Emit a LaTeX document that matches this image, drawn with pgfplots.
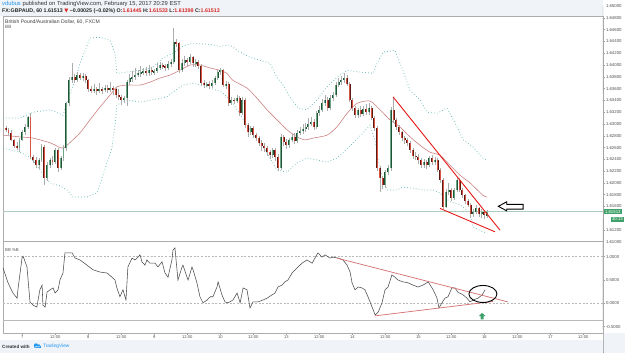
\documentclass[border=0pt]{standalone}
\usepackage{pgfplots}
\pgfplotsset{compat=1.18}
\usepackage{pgfplotstable}
\usepackage{fontspec}
\setmainfont{Liberation Sans}
\newfontfamily\symfont{DejaVu Sans}
\newcommand\fs[1]{\fontsize{#1}{#1}\selectfont}
\definecolor{hdr}{RGB}{240,243,247}
\definecolor{wick}{RGB}{172,172,172}
\definecolor{gdark}{RGB}{34,84,55}
\definecolor{glight}{RGB}{107,165,131}
\definecolor{rdark}{RGB}{91,26,19}
\definecolor{rlight}{RGB}{215,84,66}
\definecolor{ma}{RGB}{205,130,130}
\definecolor{bb}{RGB}{105,185,185}
\definecolor{trend}{RGB}{232,24,24}
\definecolor{trendb}{RGB}{214,110,110}
\definecolor{pline}{RGB}{170,205,188}
\definecolor{pgreen}{RGB}{64,160,105}
\definecolor{lbl}{RGB}{80,80,80}
\definecolor{tvblue}{RGB}{33,150,243}
\definecolor{tvred}{RGB}{214,40,40}
\pgfdeclareplotmark{tvup}{%
  \pgfpathmoveto{\pgfqpoint{0pt}{3.6pt}}%
  \pgfpathlineto{\pgfqpoint{3.4pt}{0.3pt}}%
  \pgfpathlineto{\pgfqpoint{1.4pt}{0.3pt}}%
  \pgfpathlineto{\pgfqpoint{1.4pt}{-3pt}}%
  \pgfpathlineto{\pgfqpoint{-1.4pt}{-3pt}}%
  \pgfpathlineto{\pgfqpoint{-1.4pt}{0.3pt}}%
  \pgfpathlineto{\pgfqpoint{-3.4pt}{0.3pt}}%
  \pgfpathclose\pgfusepathqfill}

\pgfplotstableread{
t o h l c
-6 1.6293 1.6297 1.6287 1.6290
-5 1.6290 1.6293 1.6280 1.6285
-4 1.6285 1.6290 1.6271 1.6273
-3 1.6273 1.6275 1.6259 1.6263
-2 1.6263 1.6269 1.6256 1.6259
-1 1.6259 1.6276 1.6253 1.6273
0 1.6273 1.6290 1.6271 1.6286
1 1.6286 1.6300 1.6281 1.6295
2 1.6295 1.6314 1.6291 1.6312
3 1.6312 1.6318 1.6241 1.6244
4 1.6244 1.6248 1.6234 1.6239
5 1.6239 1.6244 1.6226 1.6230
6 1.6230 1.6242 1.6224 1.6239
7 1.6239 1.6266 1.6236 1.6261
8 1.6261 1.6264 1.6196 1.6208
9 1.6208 1.6235 1.6203 1.6230
10 1.6230 1.6242 1.6226 1.6239
11 1.6239 1.6245 1.6230 1.6235
12 1.6235 1.6259 1.6232 1.6256
13 1.6256 1.6260 1.6218 1.6225
14 1.6225 1.6245 1.6222 1.6242
15 1.6242 1.6264 1.6238 1.6259
16 1.6259 1.6338 1.6255 1.6335
17 1.6335 1.6379 1.6331 1.6374
18 1.6374 1.6403 1.6370 1.6379
19 1.6379 1.6384 1.6369 1.6374
20 1.6374 1.6388 1.6371 1.6383
21 1.6383 1.6387 1.6374 1.6378
22 1.6378 1.6386 1.6373 1.6381
23 1.6381 1.6384 1.6370 1.6374
24 1.6374 1.6377 1.6354 1.6359
25 1.6359 1.6364 1.6353 1.6357
26 1.6357 1.6368 1.6352 1.6359
27 1.6359 1.6363 1.6350 1.6356
28 1.6356 1.6370 1.6353 1.6359
29 1.6359 1.6362 1.6351 1.6357
30 1.6357 1.6366 1.6354 1.6361
31 1.6361 1.6367 1.6352 1.6357
32 1.6357 1.6372 1.6354 1.6361
33 1.6361 1.6365 1.6350 1.6359
34 1.6359 1.6363 1.6344 1.6349
35 1.6349 1.6360 1.6340 1.6346
36 1.6346 1.6350 1.6333 1.6341
37 1.6341 1.6348 1.6335 1.6344
38 1.6344 1.6375 1.6330 1.6371
39 1.6371 1.6384 1.6366 1.6378
40 1.6378 1.6390 1.6372 1.6379
41 1.6379 1.6395 1.6375 1.6383
42 1.6383 1.6392 1.6380 1.6386
43 1.6386 1.6398 1.6380 1.6388
44 1.6388 1.6395 1.6383 1.6390
45 1.6390 1.6396 1.6381 1.6386
46 1.6386 1.6400 1.6382 1.6391
47 1.6391 1.6396 1.6384 1.6388
48 1.6388 1.6394 1.6383 1.6390
49 1.6390 1.6403 1.6386 1.6395
50 1.6395 1.6406 1.6391 1.6400
51 1.6400 1.6404 1.6393 1.6398
52 1.6398 1.6402 1.6390 1.6395
53 1.6395 1.6407 1.6392 1.6402
54 1.6402 1.6410 1.6396 1.6405
55 1.6405 1.6463 1.6402 1.6439
56 1.6439 1.6444 1.6430 1.6437
57 1.6437 1.6440 1.6387 1.6391
58 1.6391 1.6410 1.6388 1.6403
59 1.6403 1.6416 1.6399 1.6408
60 1.6408 1.6412 1.6398 1.6405
61 1.6405 1.6418 1.6402 1.6413
62 1.6413 1.6416 1.6397 1.6403
63 1.6403 1.6410 1.6396 1.6405
64 1.6405 1.6409 1.6394 1.6398
65 1.6398 1.6402 1.6366 1.6369
66 1.6369 1.6374 1.6361 1.6366
67 1.6366 1.6372 1.6362 1.6368
68 1.6368 1.6373 1.6360 1.6364
69 1.6364 1.6375 1.6361 1.6369
70 1.6369 1.6382 1.6366 1.6378
71 1.6378 1.6392 1.6374 1.6388
72 1.6388 1.6395 1.6383 1.6391
73 1.6391 1.6394 1.6362 1.6366
74 1.6366 1.6373 1.6360 1.6368
75 1.6368 1.6371 1.6331 1.6335
76 1.6335 1.6346 1.6332 1.6341
77 1.6341 1.6345 1.6334 1.6339
78 1.6339 1.6349 1.6335 1.6344
79 1.6344 1.6348 1.6314 1.6318
80 1.6318 1.6345 1.6315 1.6341
81 1.6341 1.6344 1.6293 1.6298
82 1.6298 1.6302 1.6278 1.6286
83 1.6286 1.6297 1.6282 1.6293
84 1.6293 1.6296 1.6277 1.6281
85 1.6281 1.6285 1.6271 1.6276
86 1.6276 1.6279 1.6263 1.6268
87 1.6268 1.6273 1.6255 1.6263
88 1.6263 1.6267 1.6252 1.6259
89 1.6259 1.6262 1.6245 1.6252
90 1.6252 1.6256 1.6240 1.6247
91 1.6247 1.6260 1.6242 1.6256
92 1.6256 1.6259 1.6238 1.6244
93 1.6244 1.6249 1.6220 1.6225
94 1.6225 1.6283 1.6222 1.6278
95 1.6278 1.6281 1.6262 1.6269
96 1.6269 1.6274 1.6258 1.6264
97 1.6264 1.6277 1.6260 1.6273
98 1.6273 1.6283 1.6269 1.6278
99 1.6278 1.6285 1.6266 1.6271
100 1.6271 1.6290 1.6268 1.6285
101 1.6285 1.6295 1.6281 1.6288
102 1.6288 1.6300 1.6283 1.6291
103 1.6291 1.6302 1.6287 1.6295
104 1.6295 1.6310 1.6290 1.6300
105 1.6300 1.6312 1.6296 1.6303
106 1.6303 1.6308 1.6290 1.6295
107 1.6295 1.6322 1.6291 1.6318
108 1.6318 1.6330 1.6314 1.6324
109 1.6324 1.6342 1.6320 1.6335
110 1.6335 1.6350 1.6331 1.6341
111 1.6341 1.6345 1.6322 1.6327
112 1.6327 1.6349 1.6324 1.6344
113 1.6344 1.6355 1.6339 1.6349
114 1.6349 1.6372 1.6346 1.6366
115 1.6366 1.6378 1.6362 1.6371
116 1.6371 1.6381 1.6366 1.6374
117 1.6374 1.6386 1.6369 1.6378
118 1.6378 1.6383 1.6364 1.6368
119 1.6368 1.6371 1.6337 1.6341
120 1.6341 1.6344 1.6322 1.6327
121 1.6327 1.6330 1.6310 1.6315
122 1.6315 1.6328 1.6311 1.6324
123 1.6324 1.6330 1.6312 1.6317
124 1.6317 1.6331 1.6313 1.6325
125 1.6325 1.6334 1.6315 1.6320
126 1.6320 1.6336 1.6316 1.6327
127 1.6327 1.6331 1.6306 1.6310
128 1.6310 1.6313 1.6288 1.6293
129 1.6293 1.6296 1.6220 1.6225
130 1.6225 1.6229 1.6185 1.6208
131 1.6208 1.6212 1.6190 1.6196
132 1.6196 1.6222 1.6192 1.6218
133 1.6218 1.6230 1.6213 1.6225
134 1.6225 1.6329 1.6221 1.6324
135 1.6324 1.6346 1.6303 1.6307
136 1.6307 1.6310 1.6290 1.6295
137 1.6295 1.6299 1.6281 1.6286
138 1.6286 1.6289 1.6271 1.6276
139 1.6276 1.6280 1.6266 1.6273
140 1.6273 1.6277 1.6262 1.6268
141 1.6268 1.6271 1.6251 1.6256
142 1.6256 1.6259 1.6241 1.6246
143 1.6246 1.6252 1.6239 1.6244
144 1.6244 1.6249 1.6232 1.6239
145 1.6239 1.6243 1.6225 1.6230
146 1.6230 1.6240 1.6226 1.6235
147 1.6235 1.6239 1.6224 1.6230
148 1.6230 1.6246 1.6227 1.6242
149 1.6242 1.6248 1.6231 1.6235
150 1.6235 1.6244 1.6230 1.6239
151 1.6239 1.6242 1.6218 1.6222
152 1.6222 1.6225 1.6200 1.6205
153 1.6205 1.6208 1.6156 1.6159
154 1.6159 1.6190 1.6157 1.6185
155 1.6185 1.6200 1.6180 1.6188
156 1.6188 1.6192 1.6170 1.6174
157 1.6174 1.6192 1.6171 1.6188
158 1.6188 1.6210 1.6185 1.6205
159 1.6205 1.6208 1.6184 1.6188
160 1.6188 1.6191 1.6175 1.6179
161 1.6179 1.6182 1.6165 1.6169
162 1.6169 1.6172 1.6159 1.6163
163 1.6163 1.6166 1.6140 1.6147
164 1.6147 1.6156 1.6142 1.6151
165 1.6151 1.6163 1.6148 1.6157
166 1.6157 1.6160 1.6143 1.6147
167 1.6147 1.6155 1.6140 1.6151
168 1.6151 1.6154 1.6139 1.6145
169 1.61445 1.61533 1.61398 1.61513
}\candles

\begin{document}
\begin{tikzpicture}
\useasboundingbox (0,0) rectangle (625pt,353pt);
\fill[white] (0,0) rectangle (625pt,353pt);
\fill[hdr] (0,337pt) rectangle (603pt,353pt);
\fill[hdr] (0,0) rectangle (625pt,12.5pt);
\fill[hdr] (604pt,12.5pt) rectangle (625pt,20pt);

% ---------------- price pane ----------------
\begin{axis}[
  at={(3pt,112pt)}, anchor=south west, scale only axis,
  width=600pt, height=225pt,
  xmin=-7.018, xmax=211.16, ymin=1.610119, ymax=1.648303,
  clip=false,
  axis line style={draw=gray!65, line width=0.5pt},
  xtick=\empty,
  ytick={1.612,1.616,1.618,1.620,1.622,1.624,1.626,1.628,1.630,1.632,1.634,1.636,1.638,1.640,1.642,1.644,1.646,1.648},
  ytick pos=right, yticklabel pos=right, scaled y ticks=false,
  tick align=outside, major tick length=2pt,
  tick style={draw=gray!75, line width=0.4pt},
  yticklabel style={font=\fs{4.3}, text=lbl, inner sep=0.8pt,
    /pgf/number format/.cd, fixed, fixed zerofill, precision=5, assume math mode=true},
]
% Bollinger bands
\addplot[bb, line width=0.75pt, dash pattern=on 0.75pt off 2.2pt] coordinates {
(-7.0,1.6310) (-0.8,1.6310) (3.9,1.6320) (10.1,1.6324) (14.8,1.6315) (18.4,1.6363) (21.0,1.6403) (24.6,1.6446) (28.3,1.6447) (31.9,1.6442) (33.7,1.6420) (34.4,1.6386) (38.1,1.6388) (42.8,1.6391) (47.5,1.6396) (51.2,1.6412) (54.8,1.6420) (58.4,1.6432) (62.1,1.6437) (68.3,1.6435) (71.9,1.6432) (75.5,1.6434) (78.1,1.6425) (82.8,1.6413) (86.5,1.6408) (90.1,1.6403) (92.6,1.6379) (94.4,1.6369) (97.3,1.6346) (100.3,1.6327) (103.5,1.6324) (107.2,1.6341) (110.8,1.6363) (114.4,1.6379) (118.1,1.6391) (122.8,1.6388) (127.5,1.6386) (129.0,1.6403) (131.2,1.6422) (135.5,1.6425) (138.4,1.6391) (141.0,1.6357) (144.6,1.6341) (147.2,1.6320) (150.8,1.6318) (154.4,1.6327) (155.5,1.6318) (158.1,1.6295) (160.3,1.6273) (163.9,1.6261) (167.5,1.6242) (169,1.6238)};
\addplot[bb, line width=0.75pt, dash pattern=on 0.75pt off 2.2pt] coordinates {
(-7.0,1.6259) (-0.8,1.6252) (2.8,1.6244) (5.3,1.6230) (7.9,1.6212) (10.1,1.6200) (13.7,1.6195) (16.3,1.6188) (18.4,1.6176) (23.5,1.6176) (27.2,1.6183) (30.8,1.6234) (32.6,1.6259) (33.7,1.6298) (34.4,1.6332) (38.1,1.6341) (42.8,1.6337) (47.5,1.6341) (52.6,1.6346) (54.8,1.6354) (58.4,1.6366) (62.1,1.6369) (66.4,1.6364) (72.6,1.6354) (76.6,1.6335) (82.8,1.6290) (88.3,1.6256) (92.6,1.6222) (96.3,1.6218) (99.9,1.6234) (103.5,1.6242) (107.2,1.6239) (110.8,1.6235) (114.4,1.6242) (116.6,1.6251) (120.3,1.6268) (123.9,1.6285) (126.4,1.6298) (128.2,1.6273) (130.1,1.6222) (132.6,1.6188) (136.3,1.6188) (138.4,1.6193) (142.1,1.6191) (145.7,1.6188) (149.4,1.6188) (151.9,1.6183) (155.5,1.6168) (159.2,1.6163) (162.8,1.6149) (163.9,1.6125) (167.5,1.6117) (169,1.6115)};
% middle line
\addplot[ma, line width=0.6pt, smooth, tension=0.4] coordinates {
(-7.0,1.6281) (-0.8,1.6278) (3.9,1.6276) (10.1,1.6268) (14.4,1.6259) (16.3,1.6264) (21.0,1.6285) (24.6,1.6307) (28.3,1.6329) (31.9,1.6349) (34.4,1.6363) (38.1,1.6366) (42.8,1.6366) (46.4,1.6371) (50.1,1.6378) (53.7,1.6383) (57.3,1.6391) (61.0,1.6400) (64.6,1.6400) (68.3,1.6395) (71.9,1.6391) (74.4,1.6386) (76.6,1.6374) (81.7,1.6361) (85.3,1.6344) (89.0,1.6324) (92.6,1.6307) (96.3,1.6290) (99.9,1.6278) (102.8,1.6273) (105.7,1.6276) (110.8,1.6281) (114.4,1.6295) (118.1,1.6318) (121.7,1.6335) (126.4,1.6339) (130.1,1.6324) (133.7,1.6307) (137.3,1.6295) (141.0,1.6278) (144.6,1.6264) (148.3,1.6252) (151.9,1.6247) (155.5,1.6230) (159.2,1.6213) (162.8,1.6200) (167.5,1.6179) (169,1.6176)};
% current price line
\draw[pline, line width=0.5pt] (axis cs:-7.018,1.61513) -- (axis cs:211.16,1.61513);
% wicks
\addplot[draw=none, mark=none, error bars/.cd, y dir=both, y explicit, error mark=none,
  error bar style={draw=wick, line width=0.45pt}]
  table[x=t, y expr={(\thisrow{h}+\thisrow{l})/2}, y error expr={(\thisrow{h}-\thisrow{l})/2}] {\candles};
% green bodies
\addplot[draw=none, mark=none, restrict expr to domain={\thisrow{c}-\thisrow{o}}{0:1},
  error bars/.cd, y dir=both, y explicit, error mark=none,
  error bar style={draw=gdark, line width=1.9pt}]
  table[x=t, y expr={(\thisrow{o}+\thisrow{c})/2}, y error expr={(\thisrow{c}-\thisrow{o})/2}] {\candles};
\addplot[draw=none, mark=none, restrict expr to domain={\thisrow{c}-\thisrow{o}}{0:1},
  error bars/.cd, y dir=both, y explicit, error mark=none,
  error bar style={draw=glight, line width=0.9pt}]
  table[x=t, y expr={(\thisrow{o}+\thisrow{c})/2}, y error expr={(\thisrow{c}-\thisrow{o})/2}] {\candles};
% red bodies
\addplot[draw=none, mark=none, restrict expr to domain={\thisrow{o}-\thisrow{c}}{0.000001:1},
  error bars/.cd, y dir=both, y explicit, error mark=none,
  error bar style={draw=rdark, line width=1.9pt}]
  table[x=t, y expr={(\thisrow{o}+\thisrow{c})/2}, y error expr={(\thisrow{o}-\thisrow{c})/2}] {\candles};
\addplot[draw=none, mark=none, restrict expr to domain={\thisrow{o}-\thisrow{c}}{0.000001:1},
  error bars/.cd, y dir=both, y explicit, error mark=none,
  error bar style={draw=rlight, line width=0.9pt}]
  table[x=t, y expr={(\thisrow{o}+\thisrow{c})/2}, y error expr={(\thisrow{o}-\thisrow{c})/2}] {\candles};
% trend lines
\addplot[trend, line width=0.9pt] coordinates {(134.8,1.634608) (173.7,1.611986)};
\addplot[trend, line width=0.9pt] coordinates {(151.9,1.615668) (171.9,1.611697)};
% outlined arrow
\draw[black, line width=0.9pt, fill=white, line join=miter]
  (axis cs:173.1,1.61602) -- (axis cs:176.15,1.61679) -- (axis cs:176.15,1.61635)
  -- (axis cs:182.1,1.61635) -- (axis cs:182.1,1.61555) -- (axis cs:176.15,1.61555)
  -- (axis cs:176.15,1.61526) -- cycle;
% extra price ticks/labels
\draw[gray!75, line width=0.4pt] (axis cs:211.16,1.650) -- ++(2pt,0);
\node[anchor=west, font=\fs{4.3}, text=lbl, inner sep=0.8pt] at (axis cs:211.16,1.650) [xshift=2pt] {1.65000};
\draw[gray!75, line width=0.4pt] (axis cs:211.16,1.610) -- ++(2pt,0);
\node[anchor=west, font=\fs{4.3}, text=lbl, inner sep=0.8pt] at (axis cs:211.16,1.610) [xshift=2pt] {1.61000};
\draw[gray!75, line width=0.4pt] (axis cs:211.16,1.614) -- ++(2pt,0);
% last price label and countdown
\node[anchor=west, fill=pgreen, text=white, font=\fs{4.3}, inner xsep=1.2pt, inner ysep=0.9pt] at (axis cs:211.16,1.61513) [xshift=0.6pt] {1.61513};
\node[anchor=east, fill=pgreen, text=white, font=\fs{4.3}, inner xsep=1.4pt, inner ysep=0.9pt] at (axis cs:211.16,1.613818) [xshift=21.4pt] {30:13};
\end{axis}

% ---------------- BB %B pane ----------------
\begin{axis}[
  at={(3pt,20pt)}, anchor=south west, scale only axis,
  width=600pt, height=92pt,
  xmin=-7.018, xmax=211.16, ymin=-0.6373, ymax=1.3369,
  clip=false,
  axis line style={draw=gray!65, line width=0.5pt},
  xtick={0,12,24,36,48,60,72,84,96,108,120,132,144,156,168,180,192,204},
  xticklabels={7,12:00,8,12:00,9,12:00,10,12:00,13,12:00,14,12:00,15,12:00,16,12:00,17,12:00},
  xtick pos=bottom,
  ytick={-0.5,0,0.5,1}, ytick pos=right, yticklabel pos=right, scaled y ticks=false,
  tick align=outside, major tick length=2pt,
  tick style={draw=gray!75, line width=0.4pt},
  xticklabel style={font=\fs{4.1}, text=lbl, inner sep=0.9pt},
  yticklabel style={font=\fs{4.3}, text=lbl, inner sep=0.8pt,
    /pgf/number format/.cd, fixed, fixed zerofill, precision=4, assume math mode=true},
]
\draw[gray!55, line width=0.45pt, dash pattern=on 2pt off 1.6pt] (axis cs:-7.018,1) -- (axis cs:211.16,1);
\draw[gray!55, line width=0.45pt, dash pattern=on 2pt off 1.6pt] (axis cs:-7.018,0) -- (axis cs:211.16,0);
\draw[gray!55, line width=0.5pt] (axis cs:-7.018,-0.358) -- (axis cs:211.16,-0.358);
\addplot[black!70, line width=0.55pt] coordinates {
(-7.0,0.76) (-5.2,0.44) (-3.4,0.22) (-1.9,0.11) (-1.6,0.29) (-0.1,0.97) (0.3,1.01) (1.7,0.78) (2.8,0.03) (3.9,-0.04) (5.3,-0.08) (6.4,0.29) (7.2,0.39) (7.5,-0.04) (8.3,-0.08) (9.0,0.24) (10.1,0.29) (11.2,0.33) (11.9,0.22) (13.0,0.29) (13.7,0.50) (14.8,0.65) (15.5,1.08) (16.3,1.08) (18.1,1.08) (19.2,0.97) (21.0,0.93) (23.5,0.82) (25.7,0.72) (28.3,0.67) (30.8,0.65) (32.6,0.56) (33.7,0.50) (34.4,0.33) (35.5,0.14) (36.6,0.29) (37.7,0.07) (38.4,0.78) (39.9,0.97) (41.0,0.93) (41.7,0.97) (42.8,1.04) (43.5,0.89) (44.6,0.82) (45.3,0.93) (46.4,0.86) (48.3,0.86) (49.3,0.78) (50.8,0.89) (51.9,0.65) (53.0,0.56) (54.4,0.93) (54.8,1.14) (55.5,1.19) (56.6,0.50) (58.1,0.78) (58.4,0.82) (59.9,0.56) (60.3,0.50) (61.7,0.78) (62.1,0.72) (63.5,0.44) (64.6,0.14) (65.7,0.01) (67.2,0.07) (68.3,0.14) (69.3,0.14) (70.8,0.35) (71.2,0.46) (72.6,0.18) (73.7,0.03) (74.8,0.01) (76.6,0.07) (78.1,0.22) (79.2,0.01) (80.3,0.33) (81.7,0.29) (82.8,-0.10) (83.9,0.03) (85.7,0.03) (87.5,0.07) (89.0,0.11) (90.8,0.18) (91.9,0.22) (93.0,0.35) (94.4,0.39) (95.5,0.46) (96.6,0.50) (98.1,0.65) (99.9,0.76) (101.7,0.86) (103.5,0.93) (104.6,0.89) (105.4,0.86) (106.4,0.97) (107.5,1.08) (109.0,0.99) (110.1,1.04) (111.9,0.97) (113.0,0.99) (114.8,0.97) (116.6,0.93) (118.1,0.82) (119.2,0.67) (119.9,0.44) (121.0,0.29) (122.1,0.35) (123.5,0.33) (124.6,0.29) (125.7,0.14) (127.2,-0.08) (128.3,-0.25) (129.4,-0.19) (130.8,0.01) (131.9,0.29) (133.0,0.35) (134.4,0.61) (135.5,0.56) (136.6,0.50) (138.4,0.46) (140.3,0.44) (142.1,0.39) (143.9,0.35) (145.7,0.39) (147.6,0.46) (149.4,0.29) (150.8,0.11) (151.5,-0.10) (152.6,0.01) (153.7,0.11) (154.8,0.14) (156.2,0.33) (157.3,0.33) (158.4,0.24) (160.3,0.18) (161.7,0.11) (162.8,0.03) (163.9,0.07) (165.7,0.11) (167.2,0.18) (168.3,0.29)};
\addplot[trendb, line width=0.7pt] coordinates {(114.4,0.97) (176.6,0.03)};
\addplot[trendb, line width=0.7pt] coordinates {(128.2,-0.27) (171.2,0.04)};
\draw[black, line width=0.9pt] (axis cs:167.5,0.2) ellipse [x radius=14pt, y radius=8.5pt];
\addplot[only marks, mark=tvup, color=pgreen] coordinates {(167.2,-0.283)};
\end{axis}

% ---------------- texts ----------------
\node[anchor=west, font=\fs{5.8}, text=black!80, inner sep=0] at (2pt,348.5pt)
  {\textcolor{tvblue}{vdubus} published on TradingView.com, February 15, 2017 20:29 EST};
\node[anchor=west, font=\bfseries\fs{5.3}, text=black!85, inner sep=0] at (2pt,342.2pt)
  {FX:GBPAUD, 60 1.61513 \textcolor{tvred}{{\symfont ▼}} −0.00025 (−0.02\%) O:\textcolor{tvred}{1.61445} H:\textcolor{tvred}{1.61533} L:\textcolor{tvred}{1.61398} C:\textcolor{tvred}{1.61513}};
\node[anchor=west, font=\fs{5.1}, text=black!75, inner sep=0] at (5pt,331.3pt) {British Pound/Australian Dollar, 60, FXCM};
\node[anchor=west, font=\fs{4.6}, text=black!65, inner sep=0] at (5pt,325.6pt) {BB};
\node[anchor=west, font=\fs{4.3}, text=black!65, inner sep=0] at (5pt,103pt) {BB \%B};
\node[anchor=west, font=\bfseries\fs{4.6}, text=black!80, inner sep=0] at (2pt,6.5pt) {Created with};
\fill[tvblue] (33.5pt,4.6pt) rectangle (41.2pt,7pt);
\fill[tvblue] (36pt,7.6pt) circle (2.1pt);
\fill[tvblue] (39pt,7.1pt) circle (1.7pt);
\draw[white, line width=0.4pt] (34.5pt,5.2pt) -- (36.5pt,6.8pt) -- (38pt,5.8pt) -- (40.5pt,7.6pt);
\node[anchor=west, font=\fs{4.8}, text=tvblue, inner sep=0] at (42.8pt,6.5pt) {TradingView};
\end{tikzpicture}
\end{document}
